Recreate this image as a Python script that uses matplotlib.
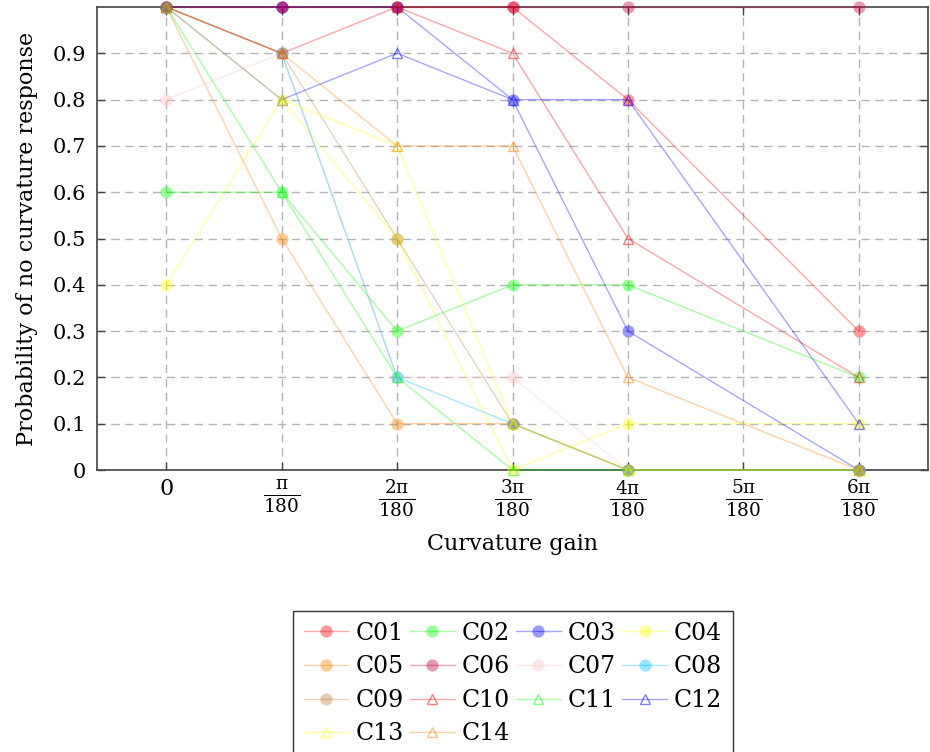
import matplotlib
matplotlib.use('Agg')
import matplotlib.pyplot as plt

# ---- data ----
gains = [0, 1, 2, 3, 4, 6]
names = ['C01', 'C02', 'C03', 'C04', 'C05', 'C06', 'C07', 'C08', 'C09',
         'C10', 'C11', 'C12', 'C13', 'C14']
c01 = [1.0, 1.0, 1.0, 1.0, 0.8, 0.3]
c02 = [0.6, 0.6, 0.3, 0.4, 0.4, 0.2]
c03 = [1.0, 1.0, 1.0, 0.8, 0.3, 0.0]
c04 = [0.4, 0.8, 0.5, 0.0, 0.1, 0.1]
c05 = [1.0, 0.5, 0.1, 0.1, 0.0, 0.0]
c06 = [1.0, 1.0, 1.0, 1.0, 1.0, 1.0]
c07 = [0.8, 0.9, 0.2, 0.2, 0.0, 0.0]
c08 = [1.0, 0.9, 0.2, 0.1, 0.0, 0.0]
c09 = [1.0, 0.9, 0.5, 0.1, 0.0, 0.0]
c10 = [1.0, 0.9, 1.0, 0.9, 0.5, 0.2]
c11 = [1.0, 0.6, 0.2, 0.0, 0.0, 0.0]
c12 = [1.0, 0.8, 0.9, 0.8, 0.8, 0.1]
c13 = [1.0, 0.8, 0.7, 0.1, 0.0, 0.0]
c14 = [1.0, 0.9, 0.7, 0.7, 0.2, 0.0]
series = [c01, c02, c03, c04, c05, c06, c07, c08, c09, c10, c11, c12, c13, c14]

xtick_pos = [0, 1, 2, 3, 4, 5, 6]
xtick_labels = [r'$0$', r'$\frac{\pi}{180}$', r'$\frac{2\pi}{180}$', r'$\frac{3\pi}{180}$',
                r'$\frac{4\pi}{180}$', r'$\frac{5\pi}{180}$', r'$\frac{6\pi}{180}$']
ytick_pos = [0, 0.1, 0.2, 0.3, 0.4, 0.5, 0.6, 0.7, 0.8, 0.9]
ytick_labels = ['0', '0.1', '0.2', '0.3', '0.4', '0.5', '0.6', '0.7', '0.8', '0.9']

# ---- styles ----
palette = {
    'red': (1, 0, 0), 'green': (0, 1, 0), 'blue': (0, 0, 1), 'yellow': (1, 1, 0),
    'orange': (1, 0.5, 0), 'purple': (0.75, 0, 0.25), 'pink': (1, 0.75, 0.75),
    'cyan': (0, 0.75, 1), 'brown': (0.75, 0.5, 0.25),
}
series_colors = ['red', 'green', 'blue', 'yellow', 'orange', 'purple', 'pink', 'cyan', 'brown',
                 'red', 'green', 'blue', 'yellow', 'orange']
series_markers = ['o'] * 9 + ['^'] * 5

plt.rcParams['font.family'] = ['DejaVu Serif']
plt.rcParams['mathtext.fontset'] = 'dejavuserif'
plt.rcParams['mathtext.default'] = 'regular'

fig = plt.figure(figsize=(9.3, 7.52), dpi=100)
ax = fig.add_axes([97 / 930, 1 - 470 / 752, (928 - 97) / 930, (470 - 7) / 752])

alpha = 0.35
handles = []
for name, ys, cname, mk in zip(names, series, series_colors, series_markers):
    r, g, b = palette[cname]
    lc = (r, g, b, alpha)
    if mk == 'o':
        h, = ax.plot(gains, ys, color=lc, linewidth=1.0, marker='o', markersize=8.8,
                     markerfacecolor=(r, g, b, 0.4), markeredgewidth=0, label=name, clip_on=False,
                     zorder=3)
    else:
        h, = ax.plot(gains, ys, color=lc, linewidth=1.0, marker='^', markersize=7.5,
                     markerfacecolor='none', markeredgecolor=(r, g, b, 0.5), markeredgewidth=1.0,
                     label=name, clip_on=False, zorder=3)
    handles.append(h)

ax.set_xlim(-0.6, 6.6)
ax.set_ylim(0, 1)
ax.set_xticks(xtick_pos)
ax.set_xticklabels(xtick_labels, fontsize=19)
ax.get_xticklabels()[0].set_fontsize(16)
ax.set_yticks(ytick_pos)
ax.set_yticklabels(ytick_labels, fontsize=15)
ax.tick_params(direction='in', length=6, width=1, color='#444444', top=True, right=True, pad=8)
ax.tick_params(axis='x', pad=6)
ax.grid(True, color='#b4b4b4', linestyle=(0, (6, 4)), linewidth=1.0)
ax.set_axisbelow(True)
for sp in ax.spines.values():
    sp.set_color('#444444')
    sp.set_linewidth(1.2)

ax.set_xlabel('Curvature gain', fontsize=16, labelpad=10)
ax.set_ylabel('Probability of no curvature response', fontsize=16, labelpad=10)

# row-major ordering for a 4-column legend
ncol = 4
order = []
for c in range(ncol):
    order += list(range(c, len(handles), ncol))
leg = ax.legend([handles[i] for i in order], [names[i] for i in order],
                loc='upper center', bbox_to_anchor=(513 / 930, 1 - 611 / 752), bbox_transform=fig.transFigure,
                ncol=ncol, fontsize=17, frameon=True, fancybox=False, edgecolor='black',
                handlelength=1.9, handletextpad=0.3, columnspacing=0.25, labelspacing=0.45,
                borderpad=0.45, borderaxespad=0)
leg.get_frame().set_linewidth(1.0)

fig.savefig('out.png', dpi=100)
